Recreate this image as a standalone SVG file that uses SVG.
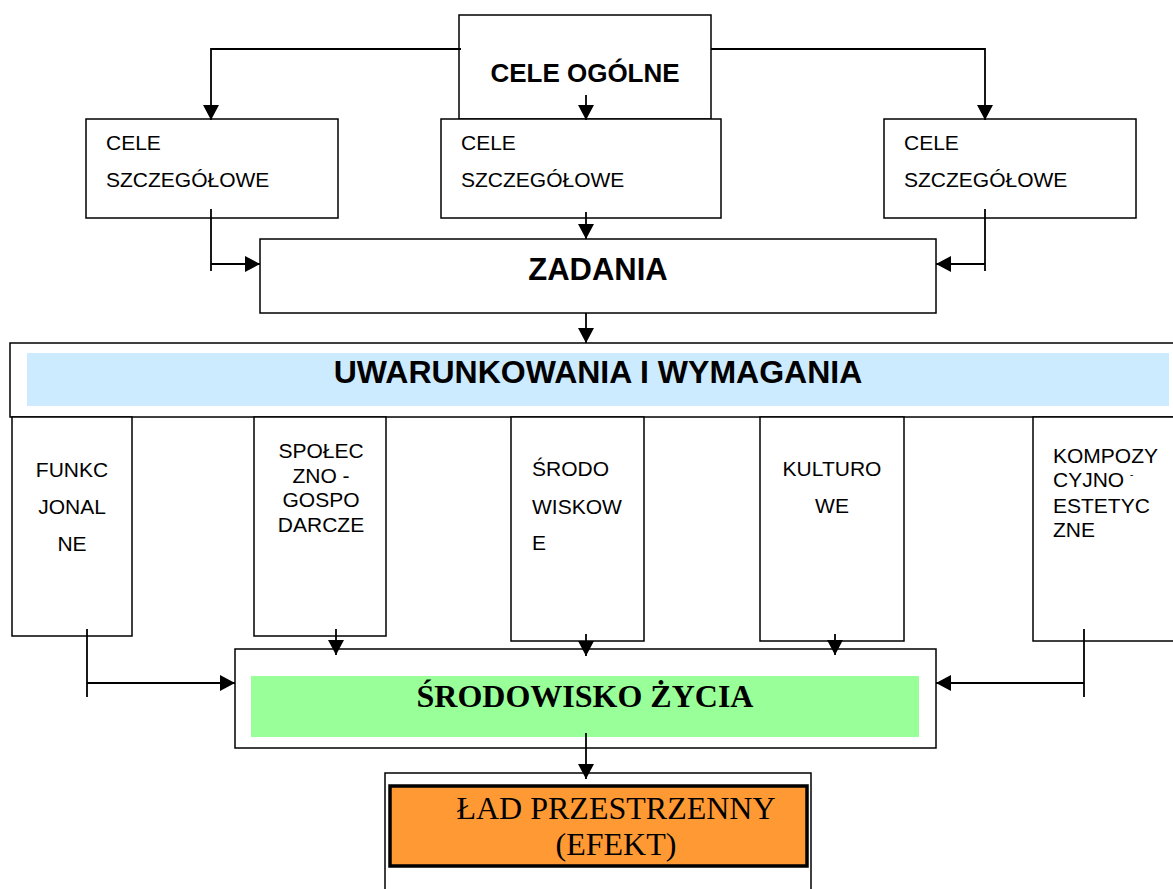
<svg xmlns="http://www.w3.org/2000/svg" width="1173" height="889" viewBox="0 0 1173 889">
<style>
  .box{fill:#fff;stroke:#000;stroke-width:1.5}
  .con{fill:none;stroke:#000;stroke-width:1.8}
  .t{font-family:"Liberation Sans",Arial,sans-serif;font-size:21px;fill:#000}
  .tc{font-family:"Liberation Sans",Arial,sans-serif;font-size:21px;fill:#000;text-anchor:middle}
  .b{font-family:"Liberation Sans",Arial,sans-serif;font-weight:bold;fill:#000;text-anchor:middle}
  .tm{font-family:"Liberation Serif","Times New Roman",serif;fill:#000;text-anchor:middle}
</style>
<defs>
  <marker id="ah" markerUnits="userSpaceOnUse" markerWidth="16" markerHeight="16" refX="15" refY="8" orient="auto">
    <path d="M0,0 L15,8 L0,16 Z" fill="#000"/>
  </marker>
</defs>
<rect width="1173" height="889" fill="#fff"/>

<g id="cele-ogolne">
  <rect class="box" x="459" y="15" width="252" height="104"/>
  <text class="b" x="585" y="82" font-size="26">CELE OGÓLNE</text>
</g>
<g id="cs-left">
  <rect class="box" x="86" y="119" width="252" height="99"/>
  <text class="t" x="106" y="150">CELE</text>
  <text class="t" x="106" y="187">SZCZEGÓŁOWE</text>
</g>
<g id="cs-mid">
  <rect class="box" x="441" y="119" width="280" height="99"/>
  <text class="t" x="461" y="150">CELE</text>
  <text class="t" x="461" y="187">SZCZEGÓŁOWE</text>
</g>
<g id="cs-right">
  <rect class="box" x="884" y="119" width="252" height="99"/>
  <text class="t" x="904" y="150">CELE</text>
  <text class="t" x="904" y="187">SZCZEGÓŁOWE</text>
</g>
<g id="zadania">
  <rect class="box" x="260" y="239" width="676" height="74"/>
  <text class="b" x="598" y="280" font-size="31">ZADANIA</text>
</g>
<g id="uwarunkowania">
  <rect class="box" x="10" y="343" width="1175" height="74"/>
  <rect x="27" y="353" width="1142" height="53" fill="#CCEBFF"/>
  <text class="b" x="598" y="383" font-size="32">UWARUNKOWANIA I WYMAGANIA</text>
</g>
<g id="funkcjonalne">
  <rect class="box" x="12" y="417" width="120" height="219"/>
  <text class="tc" x="72" y="477">FUNKC</text>
  <text class="tc" x="72" y="514">JONAL</text>
  <text class="tc" x="72" y="551">NE</text>
</g>
<g id="spoleczno">
  <rect class="box" x="254" y="417" width="132" height="219"/>
  <text class="tc" x="321" y="458">SPOŁEC</text>
  <text class="tc" x="321" y="483">ZNO -</text>
  <text class="tc" x="321" y="507">GOSPO</text>
  <text class="tc" x="321" y="532">DARCZE</text>
</g>
<g id="srodowiskowe">
  <rect class="box" x="511" y="417" width="133" height="224"/>
  <text class="t" x="532" y="476">ŚRODO</text>
  <text class="t" x="532" y="514">WISKOW</text>
  <text class="t" x="532" y="550">E</text>
</g>
<g id="kulturowe">
  <rect class="box" x="760" y="417" width="144" height="224"/>
  <text class="tc" x="832" y="476">KULTURO</text>
  <text class="tc" x="832" y="513">WE</text>
</g>
<g id="kompozycyjno">
  <rect class="box" x="1033" y="417" width="160" height="224"/>
  <text class="t" x="1053" y="463">KOMPOZY</text>
  <text class="t" x="1053" y="487">CYJNO <tspan font-size="10" dy="-9">-</tspan></text>
  <text class="t" x="1053" y="513">ESTETYC</text>
  <text class="t" x="1053" y="537">ZNE</text>
</g>
<g id="srodowisko-zycia">
  <rect class="box" x="235" y="649" width="701" height="99"/>
  <rect x="251" y="676" width="668" height="61" fill="#99FF99"/>
  <text class="tm" x="585" y="707" font-size="32" font-weight="bold">ŚRODOWISKO ŻYCIA</text>
</g>
<g id="lad">
  <rect class="box" x="385" y="773" width="426" height="130"/>
  <rect x="390" y="786" width="417" height="80" fill="#FF9933" stroke="#000" stroke-width="3.5"/>
  <text class="tm" x="616" y="819" font-size="32">ŁAD PRZESTRZENNY</text>
  <text class="tm" x="616" y="855" font-size="32">(EFEKT)</text>
</g>

<g id="connectors">
  <polyline class="con" points="461,49 211,49 211,120" marker-end="url(#ah)"/>
  <polyline class="con" points="711,49 985,49 985,120" marker-end="url(#ah)"/>
  <line class="con" x1="586" y1="95" x2="586" y2="120" marker-end="url(#ah)"/>
  <line class="con" x1="211" y1="209" x2="211" y2="271"/>
  <line class="con" x1="211" y1="264" x2="260" y2="264" marker-end="url(#ah)"/>
  <line class="con" x1="985" y1="209" x2="985" y2="271"/>
  <line class="con" x1="985" y1="264" x2="936" y2="264" marker-end="url(#ah)"/>
  <line class="con" x1="586" y1="212" x2="586" y2="239" marker-end="url(#ah)"/>
  <line class="con" x1="586" y1="313" x2="586" y2="343" marker-end="url(#ah)"/>
  <line class="con" x1="87" y1="629" x2="87" y2="697"/>
  <line class="con" x1="87" y1="683" x2="235" y2="683" marker-end="url(#ah)"/>
  <line class="con" x1="336" y1="629" x2="336" y2="655" marker-end="url(#ah)"/>
  <line class="con" x1="586" y1="634" x2="586" y2="656" marker-end="url(#ah)"/>
  <line class="con" x1="835" y1="634" x2="835" y2="655" marker-end="url(#ah)"/>
  <line class="con" x1="1084" y1="629" x2="1084" y2="697"/>
  <line class="con" x1="1084" y1="683" x2="936" y2="683" marker-end="url(#ah)"/>
  <line class="con" x1="586" y1="733" x2="586" y2="779" marker-end="url(#ah)"/>
</g>
</svg>
